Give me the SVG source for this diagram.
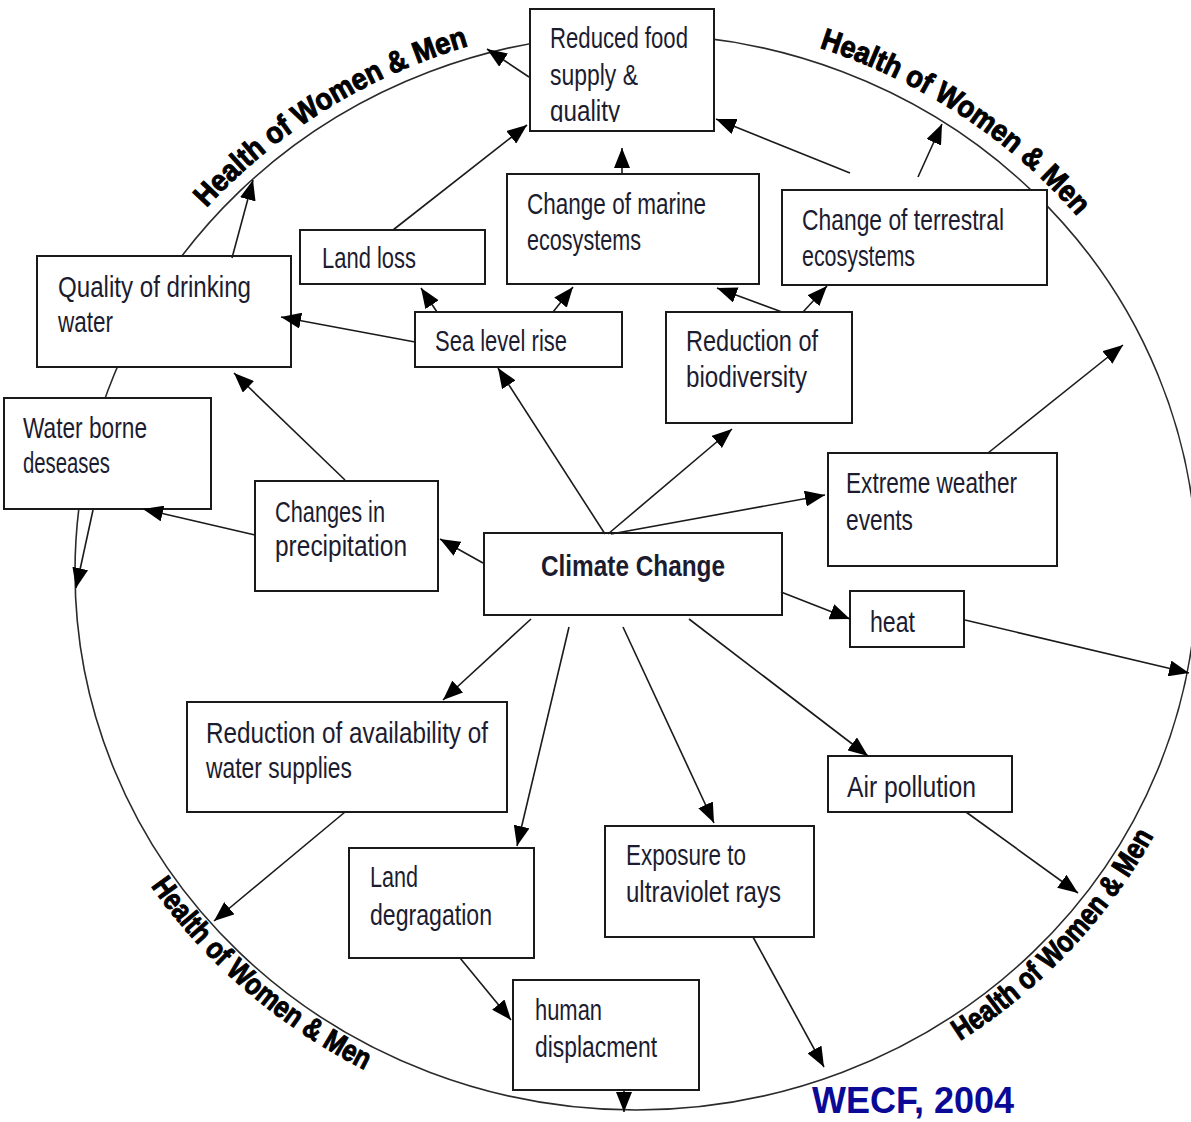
<svg xmlns="http://www.w3.org/2000/svg" width="1191" height="1122" viewBox="0 0 1191 1122">
<defs>
<style>
.box{fill:#fff;stroke:#1a1a1a;stroke-width:2}
.t{font-family:"Liberation Sans Narrow","Liberation Sans",Arial,sans-serif;font-size:29px;fill:#1c1c30}
.b{font-weight:bold}
.ln{fill:none;stroke:#1a1a1a;stroke-width:1.6;marker-end:url(#ah)}
.hw{font-family:"Liberation Sans",Arial,sans-serif;font-weight:bold;font-size:30px;fill:#000;stroke:#000;stroke-width:1}
.ring{fill:none;stroke:#2a2a2a;stroke-width:1.6}
</style>
<marker id="ah" viewBox="0 0 20 16" refX="20" refY="8" markerWidth="20" markerHeight="16" markerUnits="userSpaceOnUse" orient="auto"><path d="M0,0 L20,8 L0,16 Z" fill="#000"/></marker>
<clipPath id="cq"><rect x="530" y="9" width="184" height="113"/></clipPath>
<path id="p1" d="M116.7,339.6 A573,550 0 0 1 626,22.1"/>
<path id="p2" d="M661.1,19.5 A576,553 0 0 1 1164.3,351.5"/>
<path id="p3" d="M86.3,764.2 A585,562 0 0 0 494.5,1117.3"/>
<path id="p4" d="M836.4,1101 A586,563 0 0 0 1204.6,708.2"/>
</defs>
<rect width="1191" height="1122" fill="#fff"/>
<g id="ring">
<ellipse class="ring" cx="636" cy="572" rx="561" ry="538"/>
<text class="hw"><textPath href="#p1" startOffset="50%" text-anchor="middle" textLength="312" lengthAdjust="spacingAndGlyphs">Health of Women &amp; Men</textPath></text>
<text class="hw"><textPath href="#p2" startOffset="50%" text-anchor="middle" textLength="312" lengthAdjust="spacingAndGlyphs">Health of Women &amp; Men</textPath></text>
<text class="hw"><textPath href="#p3" startOffset="50%" text-anchor="middle" textLength="285" lengthAdjust="spacingAndGlyphs">Health of Women &amp; Men</textPath></text>
<text class="hw"><textPath href="#p4" startOffset="50%" text-anchor="middle" textLength="285" lengthAdjust="spacingAndGlyphs">Health of Women &amp; Men</textPath></text>
</g>
<g id="n-food"><rect class="box" x="530" y="9" width="184" height="122"/>
<text class="t" x="550" y="48" textLength="138" lengthAdjust="spacingAndGlyphs">Reduced food</text>
<text class="t" x="550" y="85" textLength="88" lengthAdjust="spacingAndGlyphs">supply &amp;</text>
<text class="t" x="550" y="121" textLength="70" lengthAdjust="spacingAndGlyphs" clip-path="url(#cq)">quality</text></g>
<g id="n-marine"><rect class="box" x="507" y="174" width="252" height="110"/>
<text class="t" x="527" y="214" textLength="179" lengthAdjust="spacingAndGlyphs">Change of marine</text>
<text class="t" x="527" y="250" textLength="114" lengthAdjust="spacingAndGlyphs">ecosystems</text></g>
<g id="n-terrestrial"><rect class="box" x="782" y="190" width="265" height="95"/>
<text class="t" x="802" y="230" textLength="202" lengthAdjust="spacingAndGlyphs">Change of terrestral</text>
<text class="t" x="802" y="266" textLength="113" lengthAdjust="spacingAndGlyphs">ecosystems</text></g>
<g id="n-landloss"><rect class="box" x="300" y="230" width="185" height="54"/>
<text class="t" x="322" y="268" textLength="94" lengthAdjust="spacingAndGlyphs">Land loss</text></g>
<g id="n-drinking"><rect class="box" x="37" y="256" width="254" height="111"/>
<text class="t" x="58" y="297" textLength="193" lengthAdjust="spacingAndGlyphs">Quality of drinking</text>
<text class="t" x="58" y="332" textLength="55" lengthAdjust="spacingAndGlyphs">water</text></g>
<g id="n-sealevel"><rect class="box" x="415" y="312" width="207" height="55"/>
<text class="t" x="435" y="351" textLength="132" lengthAdjust="spacingAndGlyphs">Sea level rise</text></g>
<g id="n-biodiversity"><rect class="box" x="666" y="312" width="186" height="111"/>
<text class="t" x="686" y="351" textLength="132" lengthAdjust="spacingAndGlyphs">Reduction of</text>
<text class="t" x="686" y="387" textLength="121" lengthAdjust="spacingAndGlyphs">biodiversity</text></g>
<g id="n-waterborne"><rect class="box" x="4" y="398" width="207" height="111"/>
<text class="t" x="23" y="438" textLength="124" lengthAdjust="spacingAndGlyphs">Water borne</text>
<text class="t" x="23" y="473" textLength="87" lengthAdjust="spacingAndGlyphs">deseases</text></g>
<g id="n-precip"><rect class="box" x="255" y="481" width="183" height="110"/>
<text class="t" x="275" y="522" textLength="110" lengthAdjust="spacingAndGlyphs">Changes in</text>
<text class="t" x="275" y="556" textLength="132" lengthAdjust="spacingAndGlyphs">precipitation</text></g>
<g id="n-climate"><rect class="box" x="484" y="533" width="298" height="82"/>
<text class="t b" x="541" y="576" textLength="184" lengthAdjust="spacingAndGlyphs">Climate Change</text></g>
<g id="n-extreme"><rect class="box" x="828" y="453" width="229" height="113"/>
<text class="t" x="846" y="493" textLength="171" lengthAdjust="spacingAndGlyphs">Extreme weather</text>
<text class="t" x="846" y="530" textLength="67" lengthAdjust="spacingAndGlyphs">events</text></g>
<g id="n-heat"><rect class="box" x="850" y="591" width="114" height="56"/>
<text class="t" x="870" y="632" textLength="45" lengthAdjust="spacingAndGlyphs">heat</text></g>
<g id="n-watersupply"><rect class="box" x="187" y="702" width="320" height="110"/>
<text class="t" x="206" y="743" textLength="282" lengthAdjust="spacingAndGlyphs">Reduction of availability of</text>
<text class="t" x="206" y="778" textLength="146" lengthAdjust="spacingAndGlyphs">water supplies</text></g>
<g id="n-air"><rect class="box" x="828" y="756" width="184" height="56"/>
<text class="t" x="847" y="797" textLength="129" lengthAdjust="spacingAndGlyphs">Air pollution</text></g>
<g id="n-landdeg"><rect class="box" x="349" y="848" width="185" height="110"/>
<text class="t" x="370" y="887" textLength="48" lengthAdjust="spacingAndGlyphs">Land</text>
<text class="t" x="370" y="925" textLength="122" lengthAdjust="spacingAndGlyphs">degragation</text></g>
<g id="n-uv"><rect class="box" x="605" y="826" width="209" height="111"/>
<text class="t" x="626" y="865" textLength="120" lengthAdjust="spacingAndGlyphs">Exposure to</text>
<text class="t" x="626" y="902" textLength="155" lengthAdjust="spacingAndGlyphs">ultraviolet rays</text></g>
<g id="n-displacement"><rect class="box" x="513" y="980" width="186" height="110"/>
<text class="t" x="535" y="1020" textLength="67" lengthAdjust="spacingAndGlyphs">human</text>
<text class="t" x="535" y="1057" textLength="122" lengthAdjust="spacingAndGlyphs">displacment</text></g>
<g id="connectors">
<path class="ln" d="M529,77 L487,49"/>
<path class="ln" d="M393,230 L527,125"/>
<path class="ln" d="M622,174 L622,148"/>
<path class="ln" d="M850,173 L716,119"/>
<path class="ln" d="M918,177 L942,124"/>
<path class="ln" d="M232,258 L253,180"/>
<path class="ln" d="M437,312 L421,288"/>
<path class="ln" d="M553,312 L573,287"/>
<path class="ln" d="M782,312 L717,288"/>
<path class="ln" d="M803,312 L827,286"/>
<path class="ln" d="M415,342 L281,317"/>
<path class="ln" d="M345,480 L234,373"/>
<path class="ln" d="M255,535 L143,509"/>
<path class="ln" d="M93,510 L76,588"/>
<path class="ln" d="M483,563 L440,539"/>
<path class="ln" d="M605,534 L498,368"/>
<path class="ln" d="M608,534 L732,429"/>
<path class="ln" d="M611,534 L825,495"/>
<path class="ln" d="M988,453 L1123,345"/>
<path class="ln" d="M781,592 L850,619"/>
<path class="ln" d="M965,620 L1189,673"/>
<path class="ln" d="M531,619 L443,700"/>
<path class="ln" d="M569,627 L517,846"/>
<path class="ln" d="M623,627 L714,823"/>
<path class="ln" d="M689,619 L868,756"/>
<path class="ln" d="M345,812 L214,921"/>
<path class="ln" d="M460,958 L511,1020"/>
<path class="ln" d="M966,812 L1078,893"/>
<path class="ln" d="M753,937 L824,1067"/>
<path class="ln" d="M624,1089 L624,1112"/>
</g>
<text x="812" y="1113" font-family="Liberation Sans, Arial, sans-serif" font-weight="bold" font-size="36" fill="#0a0a96">WECF, 2004</text>
</svg>
